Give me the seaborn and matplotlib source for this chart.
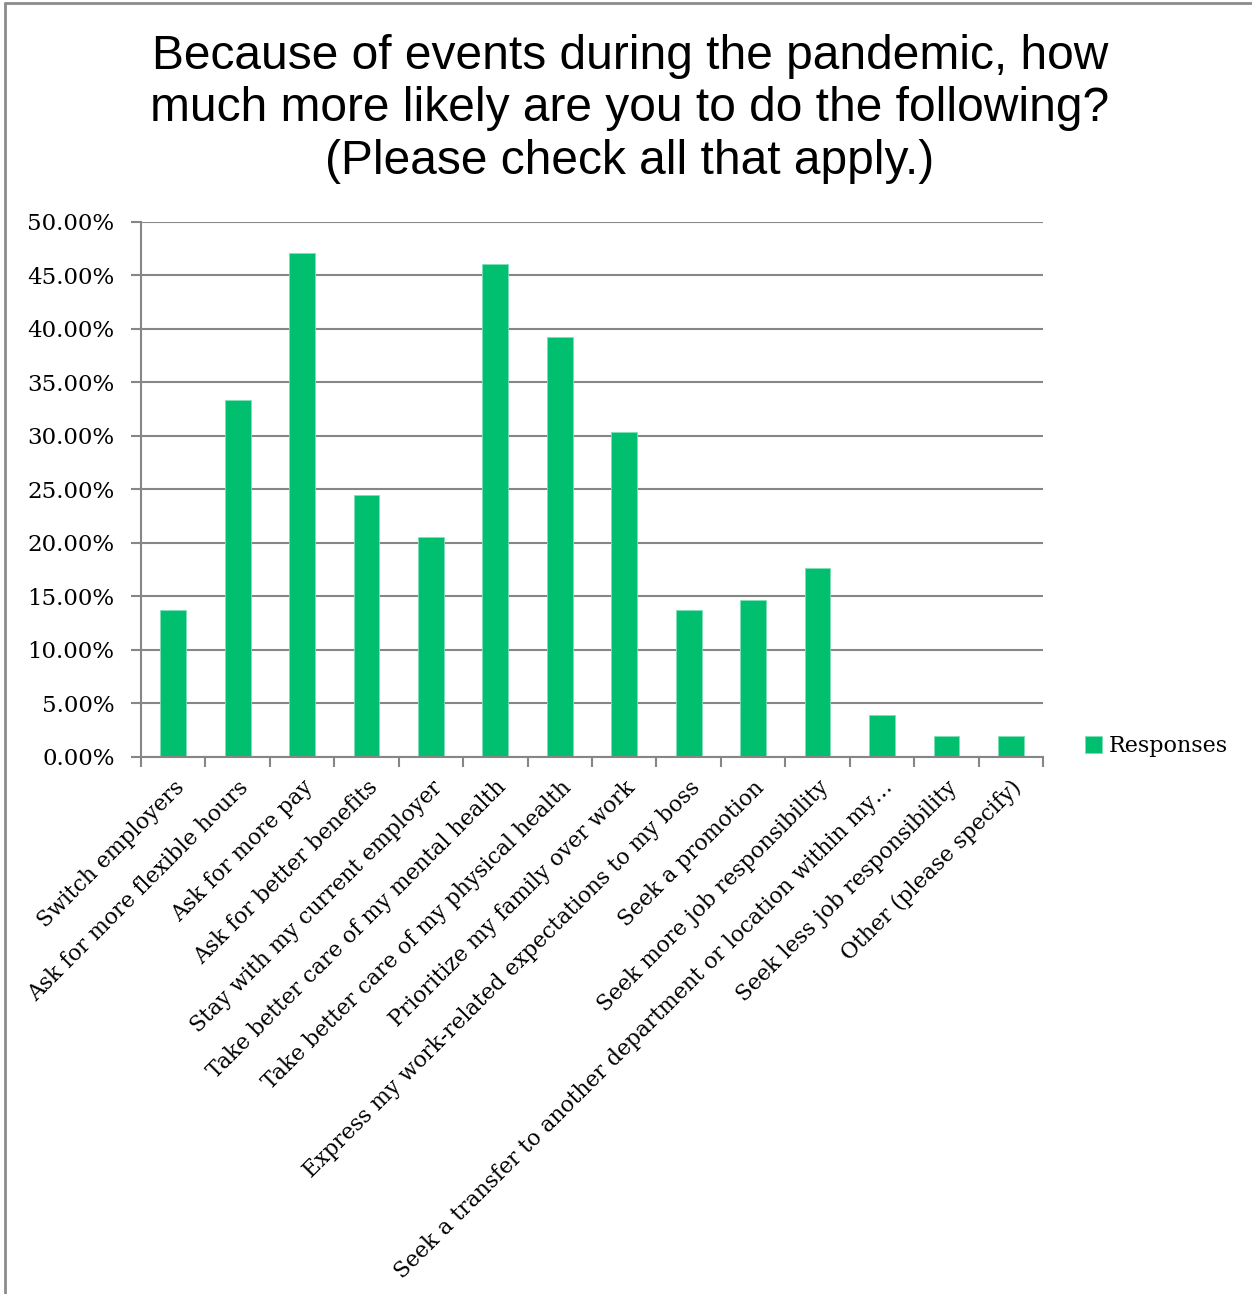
import matplotlib
matplotlib.use("Agg")
import matplotlib.pyplot as plt
import seaborn as sns
import pandas as pd
from matplotlib.lines import Line2D
from matplotlib.ticker import FuncFormatter, FixedLocator

sns.set_theme(style="white")
plt.rcParams["font.family"] = ["DejaVu Serif"]
plt.rcParams["text.color"] = "black"
plt.rcParams["xtick.color"] = "black"
plt.rcParams["ytick.color"] = "black"

# survey answers and share of respondents (%)
answers = [
    "Switch employers",
    "Ask for more flexible hours",
    "Ask for more pay",
    "Ask for better benefits",
    "Stay with my current employer",
    "Take better care of my mental health",
    "Take better care of my physical health",
    "Prioritize my family over work",
    "Express my work-related expectations to my boss",
    "Seek a promotion",
    "Seek more job responsibility",
    "Seek a transfer to another department or location within my\u2026",
    "Seek less job responsibility",
    "Other (please specify)",
]
responses = [13.73, 33.33, 47.06, 24.51, 20.59, 46.08, 39.22, 30.39,
             13.73, 14.71, 17.65, 3.92, 1.96, 1.96]
y_ticks = [0, 5, 10, 15, 20, 25, 30, 35, 40, 45, 50]

title = ("Because of events during the pandemic, how\n"
         "much more likely are you to do the following?\n"
         "(Please check all that apply.)")

df = pd.DataFrame({"Answer": answers, "Responses": responses})

green = "#00BF6F"
grid_grey = "#868686"

fig = plt.figure(figsize=(12.52, 12.94), dpi=100)
ax = fig.add_axes([0.1126, 0.415, 0.7205, 0.4135])

sns.barplot(data=df, x="Answer", y="Responses", color=green, width=0.4,
            saturation=1, edgecolor="#7fdfb7", linewidth=0.6, ax=ax,
            label="Responses")

ax.set_xlim(-0.5, len(answers) - 0.5)
ax.set_ylim(0, 50)
ax.set_xlabel("")
ax.set_ylabel("")

ax.yaxis.set_major_locator(FixedLocator(y_ticks))
ax.yaxis.set_major_formatter(FuncFormatter(lambda v, p: f"{v:.2f}%"))
ax.yaxis.grid(True, color=grid_grey, linewidth=1.5)
ax.set_axisbelow(True)

for side in ["top", "right"]:
    ax.spines[side].set_visible(False)
for side in ["left", "bottom"]:
    ax.spines[side].set_color(grid_grey)
    ax.spines[side].set_linewidth(1.5)

ax.tick_params(axis="y", which="major", length=7, width=1.5, color=grid_grey,
               direction="out", labelsize=16.5, pad=12, left=True)
# x ticks sit on category boundaries, labels on the centres
ax.set_xticks(range(len(answers)))
ax.set_xticklabels(answers, rotation=45, ha="right", rotation_mode="anchor",
                   fontsize=15.75)
ax.tick_params(axis="x", which="major", length=0, pad=14)
ax.set_xticks([i - 0.5 for i in range(len(answers) + 1)], minor=True)
ax.tick_params(axis="x", which="minor", length=7, width=1.5, color=grid_grey,
               direction="out", bottom=True)

leg = ax.legend(loc="center left", bbox_to_anchor=(1.0466, 0.02), frameon=False,
                fontsize=16, handlelength=0.75, handleheight=0.75,
                handletextpad=0.3, borderpad=0, borderaxespad=0)

fig.text(0.503, 1 - 34 / 1294, title, ha="center", va="top",
         fontsize=34.5, family=["Liberation Sans"], linespacing=1.21)

# chart frame (top and left edges visible in the source)
fig.add_artist(Line2D([0.004, 1.0], [0.9975, 0.9975], transform=fig.transFigure,
                      color="#8c8c8c", linewidth=2))
fig.add_artist(Line2D([0.004, 0.004], [0.0, 0.9975], transform=fig.transFigure,
                      color="#8c8c8c", linewidth=2))

fig.savefig("out.png", dpi=100)
plt.close(fig)
